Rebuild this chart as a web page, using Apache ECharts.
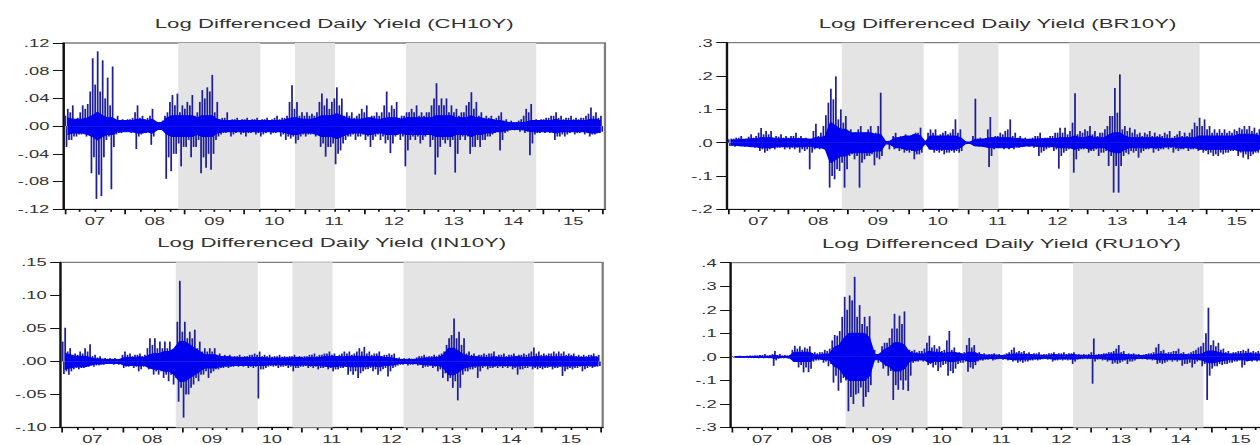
<!DOCTYPE html>
<html>
<head>
<meta charset="utf-8">
<script src="https://cdn.jsdelivr.net/npm/echarts@6/dist/echarts.min.js"></script>
<style>
html, body { margin: 0; padding: 0; overflow: hidden; background: #fff; width: 1260px; height: 445px; }
#chart { width: 730px; height: 445px; transform: scaleX(1.75); transform-origin: 0 0; }
</style>
</head>
<body>
<div id="chart"></div>
<script>
// ---------- data ----------
const names = ['CH10Y', 'BR10Y', 'IN10Y', 'RU10Y'];
const startYear = 2007;

// monthly largest moves: pairs (largest up move, largest down move), Jan 2007 .. Dec 2015
const ch10y = [
  .025,-.03, .03,-.02, .012,-.015, .03,-.012, .032,-.015, .098,-.068, .108,-.105, .095,-.101, .07,-.02, .086,-.091, .015,-.012, .01,-.01,
  .01,-.008, .012,-.01, .03,-.033, .015,-.012, .012,-.01, .025,-.027, .006,-.006, .008,-.005, .02,-.076, .045,-.065, .047,-.04, .03,-.058,
  .035,-.03, .045,-.045, .02,-.03, .052,-.068, .056,-.06, .074,-.063, .035,-.02, .012,-.012, .02,-.01, .01,-.015, .012,-.01, .01,-.012,
  .012,-.015, .01,-.01, .012,-.012, .01,-.015, .012,-.01, .01,-.012, .015,-.01, .012,-.015, .015,-.02, .059,-.018, .035,-.025, .02,-.015,
  .02,-.015, .018,-.012, .02,-.015, .047,-.03, .04,-.044, .035,-.03, .056,-.055, .04,-.035, .02,-.02, .02,-.015, .015,-.02, .025,-.015,
  .03,-.02, .015,-.03, .02,-.015, .02,-.02, .05,-.025, .03,-.039, .035,-.015, .015,-.02, .02,-.058, .025,-.02, .03,-.02, .02,-.025,
  .02,-.015, .03,-.03, .062,-.07, .04,-.03, .04,-.025, .03,-.03, .025,-.067, .02,-.02, .03,-.02, .049,-.04, .035,-.03, .02,-.03,
  .015,-.02, .015,-.015, .012,-.01, .02,-.035, .01,-.01, .008,-.006, .006,-.006, .01,-.008, .025,-.01, .032,-.042, .01,-.012, .01,-.01,
  .012,-.01, .015,-.01, .02,-.02, .015,-.015, .012,-.015, .015,-.01, .012,-.012, .012,-.01, .015,-.012, .027,-.015, .02,-.012, .015,-.01
];
const br10y = [
  .012,-.01, .015,-.012, .02,-.01, .012,-.012, .025,-.01, .02,-.015, .044,-.025, .035,-.03, .035,-.02, .02,-.02, .025,-.015, .02,-.02,
  .02,-.02, .03,-.02, .02,-.03, .015,-.025, .012,-.08, .057,-.02, .03,-.02, .082,-.02, .162,-.135, .199,-.11, .10,-.085, .08,-.135,
  .04,-.04, .02,-.05, .05,-.135, .03,-.05, .05,-.04, .03,-.068, .15,-.05, .002,-.01, .003,-.02, .03,-.02, .02,-.025, .025,-.03,
  .02,-.03, .03,-.05, .045,-.035, .001,-.001, .04,-.02, .04,-.03, .025,-.03, .035,-.035, .03,-.03, .07,-.03, .04,-.03, .005,-.005,
  .002,-.002, .132,-.01, .015,-.012, .012,-.012, .077,-.073, .02,-.02, .03,-.015, .035,-.02, .07,-.02, .03,-.02, .02,-.015, .015,-.012,
  .012,-.012, .02,-.015, .03,-.04, .015,-.025, .02,-.015, .03,-.025, .045,-.078, .045,-.03, .035,-.02, .148,-.09, .035,-.025, .04,-.02,
  .05,-.03, .035,-.025, .03,-.04, .04,-.03, .08,-.07, .164,-.15, .205,-.15, .05,-.04, .045,-.035, .04,-.03, .03,-.045, .03,-.025,
  .035,-.02, .03,-.03, .025,-.025, .03,-.02, .035,-.02, .02,-.03, .035,-.025, .03,-.02, .03,-.025, .06,-.02, .075,-.025, .07,-.03,
  .05,-.035, .04,-.04, .04,-.04, .04,-.035, .035,-.03, .04,-.025, .045,-.04, .05,-.045, .05,-.05, .045,-.035, .04,-.03, .035,-.03
];
const in10y = [
  .051,-.019, .02,-.02, .012,-.012, .015,-.012, .02,-.01, .026,-.008, .01,-.008, .008,-.006, .005,-.005, .005,-.004, .005,-.005, .004,-.005,
  .015,-.01, .012,-.008, .01,-.01, .012,-.015, .01,-.008, .035,-.012, .035,-.02, .03,-.02, .03,-.025, .03,-.03, .012,-.035, .122,-.061,
  .06,-.085, .045,-.05, .048,-.035, .03,-.03, .02,-.02, .02,-.025, .02,-.015, .012,-.012, .01,-.01, .01,-.01, .008,-.008, .01,-.008,
  .008,-.008, .01,-.01, .012,-.01, .015,-.056, .01,-.012, .01,-.008, .008,-.008, .01,-.01, .008,-.008, .008,-.01, .01,-.015, .008,-.01,
  .008,-.008, .01,-.01, .012,-.01, .01,-.012, .012,-.01, .015,-.012, .012,-.015, .01,-.012, .015,-.01, .015,-.02, .012,-.02, .02,-.025,
  .022,-.015, .015,-.012, .012,-.015, .015,-.02, .01,-.012, .012,-.023, .012,-.01, .006,-.006, .005,-.005, .005,-.006, .004,-.005, .008,-.006,
  .01,-.01, .008,-.008, .01,-.01, .01,-.015, .015,-.025, .035,-.03, .065,-.04, .045,-.059, .035,-.02, .015,-.015, .012,-.012, .01,-.025,
  .012,-.01, .012,-.012, .015,-.01, .01,-.01, .012,-.01, .01,-.01, .012,-.012, .01,-.02, .012,-.012, .012,-.01, .021,-.012, .015,-.012,
  .012,-.012, .012,-.01, .015,-.012, .015,-.01, .015,-.022, .012,-.012, .012,-.012, .01,-.01, .01,-.015, .01,-.01, .012,-.01, .01,-.008
];
const ru10y = [
  .004,-.003, .005,-.004, .004,-.004, .006,-.005, .006,-.004, .008,-.006, .012,-.006, .008,-.006, .025,-.038, .012,-.008, .008,-.006, .008,-.008,
  .047,-.02, .045,-.045, .04,-.066, .045,-.065, .02,-.02, .02,-.015, .03,-.025, .035,-.04, .093,-.109, .11,-.144, .255,-.09, .261,-.231,
  .34,-.2, .22,-.155, .17,-.212, .173,-.15, .03,-.02, .015,-.025, .06,-.05, .08,-.08, .183,-.183, .175,-.14, .193,-.14, .03,-.145,
  .03,-.025, .025,-.02, .035,-.02, .09,-.035, .05,-.045, .045,-.06, .03,-.035, .11,-.08, .04,-.07, .02,-.03, .02,-.025, .08,-.063,
  .05,-.05, .02,-.02, .015,-.015, .012,-.012, .015,-.015, .012,-.01, .01,-.012, .02,-.015, .04,-.02, .025,-.025, .025,-.025, .02,-.02,
  .015,-.015, .02,-.015, .012,-.01, .015,-.012, .02,-.02, .015,-.015, .02,-.015, .015,-.015, .02,-.03, .012,-.012, .012,-.01, .012,-.01,
  .078,-.114, .012,-.012, .015,-.015, .02,-.02, .025,-.03, .05,-.03, .025,-.02, .015,-.03, .015,-.02, .012,-.01, .01,-.01, .015,-.012,
  .02,-.015, .055,-.03, .03,-.03, .02,-.02, .025,-.02, .035,-.02, .02,-.038, .015,-.03, .025,-.045, .04,-.02, .06,-.04, .209,-.183,
  .07,-.05, .06,-.04, .035,-.035, .025,-.03, .02,-.025, .025,-.02, .03,-.045, .035,-.02, .025,-.02, .025,-.02, .025,-.025, .02,-.02
];

// monthly second-largest moves: pairs (up, down)
const ch10y2 = [
  .015,-.02, .02,-.015, .01,-.012, .02,-.01, .025,-.012, .05,-.045, .06,-.07, .05,-.045, .04,-.015, .03,-.03, .01,-.01, .008,-.008,
  .008,-.007, .01,-.008, .02,-.015, .012,-.01, .01,-.008, .015,-.015, .005,-.005, .006,-.004, .015,-.045, .035,-.04, .03,-.025, .02,-.03,
  .025,-.02, .03,-.03, .015,-.02, .035,-.045, .04,-.04, .05,-.04, .02,-.015, .01,-.01, .012,-.008, .008,-.012, .01,-.008, .008,-.01,
  .01,-.01, .008,-.008, .01,-.01, .008,-.012, .01,-.008, .008,-.01, .012,-.008, .01,-.012, .012,-.015, .035,-.015, .025,-.02, .015,-.012,
  .015,-.012, .015,-.01, .015,-.012, .035,-.025, .03,-.03, .025,-.025, .04,-.04, .03,-.025, .015,-.015, .015,-.012, .012,-.015, .018,-.012,
  .02,-.015, .012,-.02, .015,-.012, .015,-.015, .03,-.02, .02,-.025, .025,-.012, .012,-.015, .015,-.035, .02,-.015, .02,-.015, .015,-.02,
  .015,-.012, .02,-.02, .04,-.045, .03,-.02, .03,-.02, .02,-.02, .02,-.04, .015,-.015, .02,-.015, .035,-.03, .025,-.02, .015,-.02,
  .012,-.015, .012,-.012, .01,-.008, .015,-.02, .008,-.008, .006,-.005, .005,-.005, .008,-.006, .015,-.008, .02,-.025, .008,-.01, .008,-.008,
  .01,-.008, .012,-.008, .015,-.015, .012,-.012, .01,-.012, .012,-.008, .01,-.01, .01,-.008, .012,-.01, .018,-.012, .015,-.01, .012,-.008
];
const br10y2 = [
  .01,-.008, .012,-.01, .015,-.008, .01,-.01, .018,-.01, .015,-.012, .03,-.02, .025,-.025, .025,-.015, .015,-.015, .018,-.012, .015,-.015,
  .015,-.015, .02,-.015, .015,-.02, .012,-.02, .01,-.03, .035,-.015, .02,-.015, .05,-.015, .12,-.1, .13,-.08, .07,-.06, .06,-.08,
  .035,-.035, .015,-.04, .04,-.06, .025,-.04, .04,-.035, .025,-.045, .05,-.04, .002,-.005, .003,-.01, .02,-.015, .015,-.02, .02,-.025,
  .015,-.025, .025,-.035, .03,-.03, .001,-.001, .03,-.015, .03,-.025, .02,-.025, .03,-.03, .025,-.025, .04,-.025, .03,-.025, .004,-.004,
  .002,-.002, .02,-.008, .012,-.01, .01,-.01, .04,-.04, .015,-.015, .02,-.012, .025,-.015, .04,-.015, .02,-.015, .015,-.012, .012,-.01,
  .01,-.01, .015,-.012, .02,-.03, .012,-.02, .015,-.012, .02,-.02, .03,-.04, .03,-.025, .025,-.015, .06,-.05, .025,-.02, .03,-.015,
  .035,-.025, .025,-.02, .02,-.03, .03,-.025, .05,-.04, .08,-.07, .09,-.07, .04,-.03, .035,-.025, .03,-.025, .025,-.03, .02,-.02,
  .025,-.015, .02,-.02, .02,-.02, .02,-.015, .025,-.015, .015,-.02, .025,-.02, .02,-.015, .02,-.02, .04,-.015, .05,-.02, .05,-.025,
  .04,-.03, .03,-.035, .03,-.03, .03,-.03, .03,-.025, .03,-.02, .035,-.03, .04,-.035, .04,-.04, .035,-.03, .03,-.025, .03,-.025
];
const in10y2 = [
  .03,-.015, .015,-.015, .01,-.01, .01,-.01, .012,-.008, .015,-.006, .008,-.006, .006,-.005, .004,-.004, .004,-.003, .004,-.004, .003,-.004,
  .01,-.008, .01,-.006, .008,-.008, .01,-.012, .008,-.007, .02,-.01, .025,-.015, .02,-.015, .02,-.02, .02,-.02, .01,-.025, .06,-.04,
  .045,-.05, .035,-.04, .035,-.025, .02,-.02, .015,-.015, .015,-.018, .015,-.012, .01,-.01, .008,-.008, .008,-.008, .007,-.007, .008,-.007,
  .007,-.007, .008,-.008, .01,-.008, .01,-.012, .008,-.01, .008,-.007, .007,-.007, .008,-.008, .007,-.007, .007,-.008, .008,-.01, .007,-.008,
  .007,-.007, .008,-.008, .01,-.008, .008,-.01, .01,-.008, .012,-.01, .01,-.012, .008,-.01, .012,-.008, .012,-.015, .01,-.015, .015,-.018,
  .015,-.012, .012,-.01, .01,-.012, .012,-.015, .008,-.01, .01,-.015, .01,-.008, .005,-.005, .004,-.004, .004,-.005, .004,-.004, .006,-.005,
  .008,-.008, .007,-.007, .008,-.008, .008,-.012, .012,-.018, .025,-.025, .04,-.03, .035,-.04, .025,-.015, .012,-.012, .01,-.01, .008,-.015,
  .01,-.008, .01,-.01, .012,-.008, .008,-.008, .01,-.008, .008,-.008, .01,-.01, .008,-.012, .01,-.01, .01,-.008, .015,-.01, .012,-.01,
  .01,-.01, .01,-.008, .012,-.01, .012,-.008, .012,-.015, .01,-.01, .01,-.01, .008,-.008, .008,-.012, .008,-.008, .01,-.008, .008,-.007
];
const ru10y2 = [
  .003,-.002, .004,-.003, .003,-.003, .005,-.004, .005,-.003, .006,-.005, .008,-.005, .006,-.005, .012,-.015, .008,-.006, .006,-.005, .006,-.006,
  .03,-.02, .035,-.035, .03,-.045, .035,-.05, .015,-.015, .015,-.012, .02,-.02, .025,-.03, .07,-.08, .09,-.11, .17,-.1, .2,-.17,
  .24,-.16, .17,-.13, .14,-.17, .13,-.12, .02,-.015, .012,-.02, .045,-.04, .06,-.06, .12,-.12, .12,-.1, .14,-.1, .03,-.08,
  .025,-.02, .02,-.015, .025,-.015, .06,-.03, .04,-.035, .035,-.045, .025,-.03, .07,-.06, .03,-.05, .015,-.025, .015,-.02, .05,-.045,
  .04,-.035, .015,-.015, .012,-.012, .01,-.01, .012,-.012, .01,-.008, .008,-.01, .015,-.012, .03,-.015, .02,-.02, .02,-.02, .015,-.015,
  .012,-.012, .015,-.012, .01,-.008, .012,-.01, .015,-.015, .012,-.012, .015,-.012, .012,-.012, .015,-.02, .01,-.01, .01,-.008, .01,-.008,
  .02,-.02, .01,-.01, .012,-.012, .015,-.015, .02,-.025, .035,-.025, .02,-.015, .012,-.02, .012,-.015, .01,-.008, .008,-.008, .012,-.01,
  .015,-.012, .04,-.025, .025,-.025, .015,-.015, .02,-.015, .025,-.015, .015,-.03, .012,-.025, .02,-.03, .03,-.015, .045,-.03, .1,-.08,
  .05,-.04, .045,-.03, .03,-.03, .02,-.025, .015,-.02, .02,-.015, .025,-.035, .025,-.015, .02,-.015, .02,-.015, .02,-.02, .015,-.015
];

// monthly half-width of the dense core band, Jan 2007 .. Dec 2015
const chCore = [
  .012,.01,.01,.01,.012,.015,.02,.015,.012,.012,.008,.008,
  .008,.008,.01,.01,.008,.01,.005,.005,.012,.015,.015,.015,
  .015,.015,.012,.015,.015,.015,.01,.008,.008,.008,.008,.008,
  .008,.008,.008,.008,.008,.008,.008,.008,.01,.012,.012,.01,
  .01,.01,.012,.015,.015,.015,.018,.015,.012,.01,.01,.01,
  .012,.012,.01,.01,.012,.012,.012,.01,.012,.012,.012,.012,
  .012,.012,.015,.015,.015,.015,.012,.012,.012,.015,.012,.012,
  .01,.01,.008,.008,.006,.005,.005,.005,.006,.008,.008,.008,
  .008,.008,.01,.008,.008,.008,.008,.008,.008,.01,.01,.008
];
const brCore = [
  .008,.008,.01,.01,.012,.012,.015,.015,.015,.012,.012,.012,
  .012,.012,.012,.012,.01,.015,.015,.02,.06,.05,.04,.04,
  .03,.03,.03,.03,.03,.025,.025,.003,.005,.015,.015,.02,
  .02,.025,.02,.001,.02,.02,.02,.02,.02,.02,.015,.003,
  .002,.01,.01,.012,.015,.015,.015,.015,.015,.012,.012,.01,
  .01,.01,.012,.012,.012,.012,.015,.015,.015,.02,.015,.015,
  .02,.015,.015,.015,.025,.03,.03,.02,.015,.015,.015,.015,
  .015,.015,.015,.012,.012,.012,.015,.015,.015,.015,.02,.02,
  .02,.02,.02,.02,.02,.02,.025,.025,.025,.025,.02,.02
];
const inCore = [
  .012,.01,.008,.008,.008,.006,.004,.004,.003,.003,.003,.003,
  .006,.006,.006,.007,.006,.01,.012,.012,.015,.015,.02,.03,
  .03,.025,.02,.015,.01,.01,.01,.008,.007,.007,.006,.006,
  .006,.006,.006,.006,.006,.005,.005,.005,.005,.005,.006,.006,
  .005,.006,.006,.006,.007,.008,.008,.007,.007,.008,.008,.008,
  .008,.007,.007,.008,.006,.006,.005,.003,.003,.003,.003,.004,
  .005,.005,.006,.006,.01,.02,.02,.015,.01,.008,.007,.007,
  .006,.006,.007,.006,.006,.006,.007,.007,.006,.006,.007,.007,
  .007,.007,.007,.007,.007,.007,.007,.006,.006,.006,.007,.006
];
const ruCore = [
  .002,.002,.002,.002,.003,.003,.003,.003,.006,.003,.003,.004,
  .02,.02,.02,.02,.008,.008,.012,.012,.04,.05,.08,.1,
  .1,.1,.1,.08,.01,.01,.03,.04,.06,.06,.05,.02,
  .015,.012,.012,.025,.02,.02,.015,.02,.02,.015,.01,.02,
  .02,.01,.008,.006,.008,.006,.006,.01,.012,.012,.01,.01,
  .008,.008,.005,.006,.01,.008,.008,.008,.01,.006,.005,.005,
  .006,.006,.008,.01,.012,.012,.01,.008,.008,.006,.006,.008,
  .008,.012,.012,.01,.01,.01,.01,.008,.01,.01,.015,.025,
  .025,.02,.015,.012,.012,.012,.012,.015,.012,.012,.012,.012
];

// y-axis ticks per panel
const yTicksCH = [-0.12, -0.08, -0.04, 0, 0.04, 0.08, 0.12];
const yTicksBR = [-0.2, -0.1, 0, 0.1, 0.2, 0.3];
const yTicksIN = [-0.10, -0.05, 0, 0.05, 0.10, 0.15];
const yTicksRU = [-0.3, -0.2, -0.1, 0, 0.1, 0.2, 0.3, 0.4];
const yDecimals = [2, 1, 2, 1];

// x-axis: year ticks and labels
const yearTicks = [2007, 2008, 2009, 2010, 2011, 2012, 2013, 2014, 2015, 2016];
const xLabels = ['07', '08', '09', '10', '11', '12', '13', '14', '15'];

// shaded periods (QE1, QE2, QE3) in fractional years
const shadePeriods = [[2008.895, 2010.265], [2010.845, 2011.515], [2012.70, 2014.88]];

// ---------- layout ----------
const X_MIN = 2006.9716, X_MAX = 2016.03;
const layout = [
  { left: 36.2,  top: 43,    width: 309.5, height: 166.3, titleY: 23.5 },
  { left: 415.3, top: 42.7,  width: 309.5, height: 166.6, titleY: 23.5 },
  { left: 34.7,  top: 262.3, width: 309.7, height: 166,   titleY: 243 },
  { left: 417.5, top: 262.7, width: 309.5, height: 166.3, titleY: 243.3 }
];
const FONT = 'Liberation Sans, Arial, Helvetica, sans-serif';
const spikeData = [ch10y, br10y, in10y, ru10y];
const spikeData2 = [ch10y2, br10y2, in10y2, ru10y2];
const coreData = [chCore, brCore, inCore, ruCore];
const yTicks = [yTicksCH, yTicksBR, yTicksIN, yTicksRU];

const quarterTicks = [];
yearTicks.forEach(y => [0.25, 0.5, 0.75].forEach(q => { if (y + q < X_MAX) quarterTicks.push(y + q); }));
const labelPos = xLabels.map((s, i) => yearTicks[i] + 0.5);

function fmt(v, d) {
  const s = Math.abs(v).toFixed(d).replace(/^0/, '');
  return (v < -1e-9 ? '-' : '') + s;
}
const monthX = (m, f) => startYear + (m + f) / 12;

const grid = [], xAxis = [], yAxis = [], series = [], graphic = [];
layout.forEach((L, i) => {
  grid.push({ left: L.left, top: L.top, width: L.width, height: L.height, show: true,
    borderColor: '#7d7d7d', borderWidth: 1.3, backgroundColor: 'transparent' });
  xAxis.push({
    type: 'value', gridIndex: i, min: X_MIN, max: X_MAX, position: 'bottom',
    axisLine: { show: true, onZero: false, lineStyle: { color: '#111', width: 1.2 } },
    axisTick: { show: true, customValues: yearTicks, length: 5, lineStyle: { color: '#111', width: 1 } },
    axisLabel: { show: true, customValues: labelPos, margin: 6.5, color: '#333', fontFamily: FONT, fontSize: 10.5,
      formatter: v => xLabels[Math.round(v - 0.5) - startYear] },
    splitLine: { show: false }
  });
  xAxis.push({
    type: 'value', gridIndex: i, min: X_MIN, max: X_MAX, position: 'bottom',
    axisLine: { show: false, onZero: false },
    axisTick: { show: true, customValues: quarterTicks, length: 2.5, lineStyle: { color: '#111', width: 1 } },
    axisLabel: { show: false },
    splitLine: { show: false }
  });
  const yt = yTicks[i];
  yAxis.push({
    type: 'value', gridIndex: i, min: yt[0], max: yt[yt.length - 1],
    axisLine: { show: true, onZero: false, lineStyle: { color: '#111', width: 1.2 } },
    axisTick: { show: true, customValues: yt, length: 6, lineStyle: { color: '#111', width: 1 } },
    axisLabel: { show: true, customValues: yt, margin: 8, color: '#333', fontFamily: FONT, fontSize: 10.5,
      formatter: v => fmt(v, yDecimals[i]) },
    splitLine: { show: false }
  });
  // spikes: vertical bars from zero to each monthly move (largest at .30/.55, second at .05/.80 of the month)
  const bars = [];
  spikeData[i].forEach((v, k) => bars.push([monthX(Math.floor(k / 2), k % 2 ? 0.30 : 0.55), v]));
  spikeData2[i].forEach((v, k) => bars.push([monthX(Math.floor(k / 2), k % 2 ? 0.80 : 0.05), v]));
  series.push({
    type: 'bar', xAxisIndex: 2 * i, yAxisIndex: i, silent: true, z: 3, barWidth: 0.85,
    data: bars,
    itemStyle: { color: '#1f1f9a' },
    markArea: { silent: true, itemStyle: { color: '#e4e4e4' },
      data: shadePeriods.map(p => [{ xAxis: p[0] }, { xAxis: p[1] }]) }
  });
  // dense core band (upper and lower halves)
  [1, -1].forEach(sgn => {
    series.push({
      type: 'line', xAxisIndex: 2 * i, yAxisIndex: i, silent: true, symbol: 'none', z: 4,
      data: coreData[i].map((v, m) => [monthX(m, 0.5), sgn * v]),
      lineStyle: { color: '#0000f0', width: 1 },
      areaStyle: { color: '#0000f0', opacity: 1, origin: 0 }
    });
  });
  graphic.push({
    type: 'text', x: L.left + L.width / 2, y: L.titleY, silent: true,
    style: { text: 'Log Differenced Daily Yield (' + names[i] + ')', align: 'center', verticalAlign: 'middle',
      fill: '#333', font: 'normal 12.7px ' + FONT }
  });
});

const chart = echarts.init(document.getElementById('chart'), null, { renderer: 'svg' });
chart.setOption({ animation: false, backgroundColor: '#fff', grid, xAxis, yAxis, series, graphic });
</script>
</body>
</html>
